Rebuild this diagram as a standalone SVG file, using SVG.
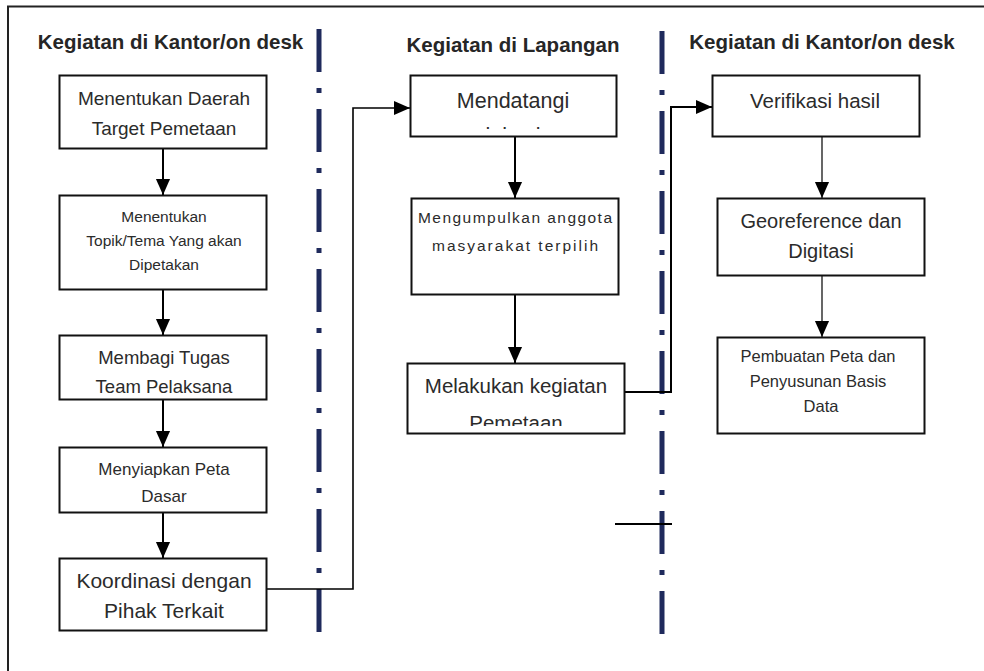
<svg xmlns="http://www.w3.org/2000/svg" width="984" height="671" viewBox="0 0 984 671">
  <defs>
    <style>
      .frame { fill: none; stroke: #222; stroke-width: 2; }
      .box { fill: #fff; stroke: #111; stroke-width: 2; }
      .head { font-family: "Liberation Sans", Arial, sans-serif; font-weight: bold; font-size: 20.5px; fill: #262626; text-anchor: middle; }
      .lbl { font-family: "Liberation Sans", Arial, sans-serif; fill: #2b2b2b; text-anchor: middle; }
      .lane { stroke: #1f2a5c; stroke-width: 5; stroke-dasharray: 43 16 5 16; fill: none; }
      .flow { stroke: #000; stroke-width: 2; fill: none; }
      .link { stroke: #000; stroke-width: 1.6; fill: none; }
      .thin { stroke: #000; stroke-width: 1.2; fill: none; }
    </style>
    <marker id="tipBig" viewBox="0 0 10 10" refX="10" refY="5" markerWidth="16" markerHeight="16" markerUnits="userSpaceOnUse" orient="auto">
      <path d="M0,0.6 L10,5 L0,9.4 Z" fill="#000"/>
    </marker>
    <clipPath id="clipM1"><rect x="410" y="75" width="206" height="54"/></clipPath>
    <clipPath id="clipM3"><rect x="407" y="363" width="218" height="63"/></clipPath>
  </defs>

  <rect width="984" height="671" fill="#fff"/>
  <!-- outer frame (runs off the right and bottom edges) -->
  <path class="frame" d="M8,671 V6.5 H984"/>

  <!-- swimlane separators -->
  <g id="lanes">
    <line class="lane" x1="319" y1="29" x2="319" y2="632"/>
    <line class="lane" x1="662" y1="31" x2="662" y2="634"/>
    <line x1="615" y1="524" x2="672" y2="524" stroke="#000" stroke-width="2"/>
  </g>

  <!-- lane headings -->
  <text class="head" x="170.5" y="49">Kegiatan di Kantor/on desk</text>
  <text class="head" x="513" y="52">Kegiatan di Lapangan</text>
  <text class="head" x="822" y="49">Kegiatan di Kantor/on desk</text>

  <!-- connectors -->
  <g id="connectors">
    <line class="flow" x1="163" y1="149" x2="163" y2="195" marker-end="url(#tipBig)"/>
    <line class="flow" x1="163" y1="290" x2="163" y2="335" marker-end="url(#tipBig)"/>
    <line class="flow" x1="163" y1="400" x2="163" y2="447" marker-end="url(#tipBig)"/>
    <line class="flow" x1="163" y1="513" x2="163" y2="558" marker-end="url(#tipBig)"/>
    <polyline class="link" points="266,589 353,589 353,108 410,108" marker-end="url(#tipBig)"/>
    <line class="flow" x1="515" y1="137" x2="515" y2="198" marker-end="url(#tipBig)"/>
    <line class="flow" x1="515" y1="295" x2="515" y2="363" marker-end="url(#tipBig)"/>
    <polyline class="flow" points="625,392 671,392 671,107 712,107" marker-end="url(#tipBig)"/>
    <line class="thin" x1="822" y1="137" x2="822" y2="198" marker-end="url(#tipBig)"/>
    <line class="thin" x1="822" y1="276" x2="822" y2="337" marker-end="url(#tipBig)"/>
  </g>

  <!-- office column (left) -->
  <g id="n-daerah">
    <rect class="box" x="59.5" y="75.5" width="207" height="73"/>
    <text class="lbl" x="164" y="105" font-size="19">Menentukan Daerah</text>
    <text class="lbl" x="164" y="135" font-size="19">Target Pemetaan</text>
  </g>
  <g id="n-topik">
    <rect class="box" x="59.5" y="195.5" width="207" height="94"/>
    <text class="lbl" x="164" y="222" font-size="15.5">Menentukan</text>
    <text class="lbl" x="164" y="246" font-size="15.5">Topik/Tema Yang akan</text>
    <text class="lbl" x="164" y="270" font-size="15.5">Dipetakan</text>
  </g>
  <g id="n-tugas">
    <rect class="box" x="59.5" y="335.5" width="207" height="64"/>
    <text class="lbl" x="164" y="364" font-size="18.5">Membagi Tugas</text>
    <text class="lbl" x="164" y="393" font-size="18.5">Team Pelaksana</text>
  </g>
  <g id="n-peta">
    <rect class="box" x="59.5" y="447.5" width="207" height="65"/>
    <text class="lbl" x="164" y="475" font-size="17">Menyiapkan Peta</text>
    <text class="lbl" x="164" y="502" font-size="17">Dasar</text>
  </g>
  <g id="n-koordinasi">
    <rect class="box" x="59.5" y="558.5" width="207" height="72"/>
    <text class="lbl" x="164" y="588" font-size="21">Koordinasi dengan</text>
    <text class="lbl" x="164" y="618" font-size="21">Pihak Terkait</text>
  </g>

  <!-- field column (middle) -->
  <g id="n-mendatangi">
    <rect class="box" x="410.5" y="75.5" width="206" height="61"/>
    <text class="lbl" x="513" y="108" font-size="21.5">Mendatangi</text>
    <text class="lbl" x="513" y="143" font-size="21.5" clip-path="url(#clipM1)">lokasi</text>
  </g>
  <g id="n-kumpul">
    <rect class="box" x="411.5" y="198.5" width="207" height="96"/>
    <text class="lbl" x="515" y="223" font-size="15.5" textLength="194">Mengumpulkan anggota</text>
    <text class="lbl" x="515" y="251" font-size="15.5" textLength="166">masyarakat terpilih</text>
  </g>
  <g id="n-kegiatan">
    <rect class="box" x="407.5" y="363.5" width="217" height="70"/>
    <text class="lbl" x="516" y="393" font-size="20.5">Melakukan kegiatan</text>
    <text class="lbl" x="516" y="430" font-size="20.5" clip-path="url(#clipM3)">Pemetaan</text>
  </g>

  <!-- office column (right) -->
  <g id="n-verifikasi">
    <rect class="box" x="712.5" y="75.5" width="207" height="61"/>
    <text class="lbl" x="815" y="108" font-size="20.5">Verifikasi hasil</text>
  </g>
  <g id="n-digitasi">
    <rect class="box" x="717.5" y="198.5" width="207" height="77"/>
    <text class="lbl" x="821" y="228" font-size="20">Georeference dan</text>
    <text class="lbl" x="821" y="258" font-size="20">Digitasi</text>
  </g>
  <g id="n-basisdata">
    <rect class="box" x="717.5" y="337.5" width="207" height="96"/>
    <text class="lbl" x="818" y="362" font-size="16.5">Pembuatan Peta dan</text>
    <text class="lbl" x="818" y="387" font-size="16.5">Penyusunan Basis</text>
    <text class="lbl" x="821" y="412" font-size="16.5">Data</text>
  </g>
</svg>
